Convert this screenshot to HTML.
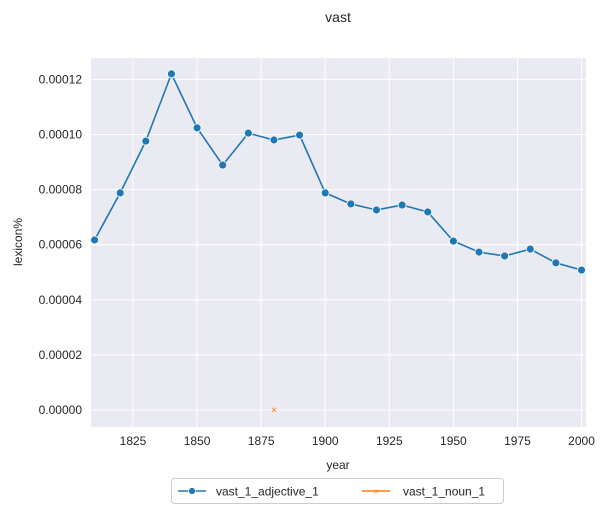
<!DOCTYPE html>
<html><head><meta charset="utf-8"><style>
body{margin:0;background:#fff;font-family:"Liberation Sans",Arial,sans-serif;}
svg text{font-family:"Liberation Sans",Arial,sans-serif;fill:#262626;}
</style></head><body>
<svg id="chart" width="606" height="515">
<text x="338" y="22" font-size="14" text-anchor="middle">vast</text>
<rect x="91" y="58" width="495" height="369" fill="#eaeaf2"/>
<g id="grid"></g><g id="axes"></g><g id="series"></g>
<text x="338" y="469" font-size="12" text-anchor="middle">year</text>
<text transform="translate(22,242) rotate(-90)" font-size="12" text-anchor="middle">lexicon%</text>
<g>
<rect x="171.5" y="478.5" width="332" height="25" rx="3" fill="#fff" stroke="#ccc"/>
<g>
<line x1="178" y1="491" x2="206" y2="491" stroke="#1f77b4" stroke-width="1.5"/>
<circle cx="192" cy="491" r="3.5" fill="#1f77b4" stroke="#fff" stroke-width="0.8"/>
<text x="216" y="495.5" font-size="12">vast_1_adjective_1</text></g>
<g>
<line x1="362" y1="491" x2="390" y2="491" stroke="#ff7f0e" stroke-width="1.5"/>
<text x="376" y="494.5" font-size="9" fill="#ff7f0e" text-anchor="middle" style="fill:#ff7f0e">×</text>
<text x="403" y="495.5" font-size="12">vast_1_noun_1</text></g>
</g>
</svg>
<script>
const years=[1810,1820,1830,1840,1850,1860,1870,1880,1890,1900,1910,1920,1930,1940,1950,1960,1970,1980,1990,2000];
const adjValues=[6.17e-5,7.88e-5,9.76e-5,12.2e-5,10.24e-5,8.89e-5,10.05e-5,9.8e-5,9.98e-5,7.88e-5,7.48e-5,7.26e-5,7.44e-5,7.19e-5,6.13e-5,5.73e-5,5.59e-5,5.84e-5,5.34e-5,5.08e-5];
const nounYears=[1880];
const nounValues=[0];
const xTicks=[1825,1850,1875,1900,1925,1950,1975,2000];
const yTicks=[0,0.00002,0.00004,0.00006,0.00008,0.0001,0.00012];
const yLabels=["0.00000","0.00002","0.00004","0.00006","0.00008","0.00010","0.00012"];
const NS="http://www.w3.org/2000/svg";
function X(v){return 133+(v-1825)*2.563;}
function Y(v){return 410-v/0.00002*55.1;}
function mk(p,t,a){const e=document.createElementNS(NS,t);for(const k in a)e.setAttribute(k,a[k]);p.appendChild(e);return e;}
const grid=document.getElementById('grid'),axes=document.getElementById('axes'),ser=document.getElementById('series');
xTicks.forEach(t=>{const l=mk(grid,'line',{x1:X(t),x2:X(t),y1:58,y2:427,stroke:'#fff','stroke-width':1});


const tx=mk(axes,'text',{x:X(t),y:445,'font-size':12,'text-anchor':'middle'});tx.textContent=t;

});
yTicks.forEach((t,i)=>{const l=mk(grid,'line',{x1:91,x2:586,y1:Y(t),y2:Y(t),stroke:'#fff','stroke-width':1});


const tx=mk(axes,'text',{x:82,y:Y(t)+4,'font-size':12,'text-anchor':'end'});tx.textContent=yLabels[i];

});
const pl=mk(ser,'polyline',{points:years.map((y,i)=>X(y)+','+Y(adjValues[i])).join(' '),fill:'none',stroke:'#1f77b4','stroke-width':1.6});


years.forEach((y,i)=>{const c=mk(ser,'circle',{cx:X(y),cy:Y(adjValues[i]),r:4,fill:'#1f77b4',stroke:'#fff','stroke-width':0.8});

});
nounYears.forEach((y,i)=>{const t=mk(ser,'text',{x:X(y),y:Y(nounValues[i])+3.5,'font-size':11,'text-anchor':'middle',style:'fill:#ff7f0e'});t.textContent='×';

});
</script>
</body></html>
